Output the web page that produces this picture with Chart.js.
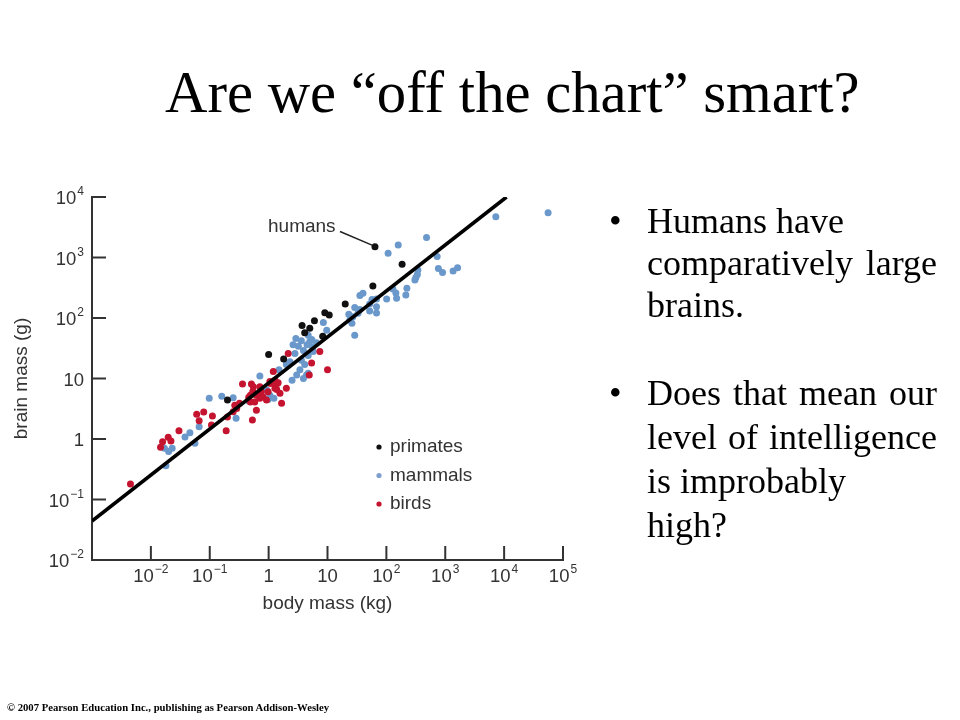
<!DOCTYPE html>
<html><head><meta charset="utf-8">
<script src="https://cdn.jsdelivr.net/npm/chart.js@4.4.1/dist/chart.umd.min.js"></script>
<style>
html,body{margin:0;padding:0;background:#fff;}
#wrap{position:relative;width:960px;height:720px;overflow:hidden;background:#fff;}
#c{position:absolute;left:0;top:0;}
.t{position:absolute;font-family:"Liberation Serif","Times New Roman",serif;color:#000;white-space:nowrap;line-height:1;}
.title{font-size:58.7px;left:165px;top:64px;}
.b{font-size:36px;left:647px;}
.j{width:290px;text-align:justify;text-align-last:justify;}
.dot{left:609px;font-size:36px;}
.foot{font-size:10.7px;font-weight:bold;left:7px;top:702px;}
</style></head>
<body><div id="wrap">
<canvas id="c" width="960" height="720"></canvas>
<div class="t title">Are we “off the chart” smart?</div>
<div class="t dot" style="top:203px">•</div>
<div class="t b" style="top:203px">Humans have</div>
<div class="t b j" style="top:245px">comparatively large</div>
<div class="t b" style="top:287px">brains.</div>
<div class="t dot" style="top:375px">•</div>
<div class="t b j" style="top:375px">Does that mean our</div>
<div class="t b j" style="top:419px">level of intelligence</div>
<div class="t b" style="top:463px">is improbably</div>
<div class="t b" style="top:507px">high?</div>
<div class="t foot">© 2007 Pearson Education Inc., publishing as Pearson Addison-Wesley</div>
</div>
<script>
// ---- data (body mass in kg, brain mass in g) ----
const primatesBody  = [64, 185, 59, 20, 9.0, 10.7, 6.0, 3.7, 5.0, 4.1, 8.3, 1.8, 1.0, 0.2];
const primatesBrain = [1510, 772, 338, 170, 122, 112, 90, 75, 68, 57, 50, 21, 25, 4.4];

const mammalsBody = [
  55800, 7230, 481, 159, 107, 728, 764, 900, 1360, 1620,
  343, 336, 317, 305, 223, 214, 129, 145, 149, 101,
  35.5, 40, 57, 68, 52, 68, 52, 68, 29, 35.5,
  23, 27, 33, 24, 26, 29, 8.5, 9.7, 2.9, 3.6,
  4.7, 5.4, 6.5, 4.5, 5.6, 3.2, 2.6, 3.9, 2.8, 4.7,
  3.6, 4.1, 3.4, 3.0, 2.5, 3.9, 4.4, 5.7, 5.0, 2.3,
  2.0, 4.7, 1.5, 0.71, 0.92, 1.05, 1.23, 0.98, 0.46, 0.16,
  0.25, 0.098, 0.28, 0.066, 0.038, 0.046, 0.056, 0.017, 0.020, 0.023,
  0.018];
const mammalsBrain = [
  5500, 4720, 2140, 1610, 1170, 1040, 658, 565, 598, 678,
  621, 524, 467, 425, 310, 240, 302, 259, 212, 206,
  235, 256, 202, 206, 170, 154, 131, 121, 149, 138,
  115, 105, 120, 93, 82, 52, 84, 63, 46, 42,
  52, 44, 39, 36, 33, 34, 36, 29, 26, 24,
  20, 17, 14, 11.4, 9.4, 10.0, 11.4, 28, 41, 19,
  17, 12.2, 14, 11, 6.5, 5.3, 4.7, 4.5, 4.25, 5.1,
  4.8, 4.7, 2.2, 1.6, 1.08, 1.27, 0.85, 0.70, 0.62, 0.70,
  0.36];

const birdsBody = [
  0.0045, 0.0146, 0.0158, 0.0197, 0.0219, 0.030, 0.060, 0.066, 0.079, 0.107,
  0.111, 0.19, 0.20, 0.25, 0.287, 0.32, 0.266, 0.36, 0.51, 0.54,
  0.46, 0.49, 0.53, 0.62, 0.71, 0.75, 0.80, 0.92, 0.98, 1.08,
  1.2, 1.28, 1.4, 1.56, 1.66, 2.0, 4.9, 2.15, 7.4, 5.37,
  10, 1.28, 1.45, 1.37, 1.05, 0.55, 0.49, 0.62, 0.71, 0.58];
const birdsBrain = [
  0.18, 0.73, 0.90, 1.07, 0.93, 1.37, 2.56, 2.0, 2.8, 1.70,
  2.40, 1.37, 2.3, 2.83, 3.2, 3.9, 3.6, 8.1, 8.1, 6.1,
  4.9, 4.1, 2.06, 3.0, 7.3, 6.05, 5.0, 4.41, 6.05, 8.3,
  13, 6.9, 8.3, 5.7, 3.9, 6.9, 11.4, 26, 28, 18,
  14, 9.4, 8.5, 6.6, 8.9, 7.3, 5.3, 5.3, 4.7, 4.1];

// regression line endpoints (body kg, brain g)
const fitBody  = [0.001, 11000];
const fitBrain = [0.044, 10000];

// axis ticks and labels [base, exponent]
const xTicks = [0.01, 0.1, 1, 10, 100, 1000, 10000, 100000];
const xTickLabels = [["10","−2"],["10","−1"],["1",""],["10",""],["10","2"],["10","3"],["10","4"],["10","5"]];
const yTicks = [0.01, 0.1, 1, 10, 100, 1000, 10000];
const yTickLabels = [["10","−2"],["10","−1"],["1",""],["10",""],["10","2"],["10","3"],["10","4"]];

const seriesNames = ["primates", "mammals", "birds"];
const xTitle = "body mass (kg)";
const yTitle = "brain mass (g)";
const annotationText = "humans";

const colBlack = "#111111", colBlue = "#6a98cb", colRed = "#c5142f";
const axisColor = "#333333", textColor = "#333333";

const pts = (bx, by) => bx.map((v, i) => ({x: v, y: by[i]}));

const decor = {
  id: 'decor',
  afterDraw(chart) {
    const {ctx, scales: {x, y}} = chart;
    ctx.save();
    ctx.strokeStyle = axisColor; ctx.lineWidth = 2; ctx.lineCap = 'butt';
    yTicks.forEach(v => { const py = y.getPixelForValue(v); ctx.beginPath(); ctx.moveTo(x.left, py); ctx.lineTo(x.left + 14, py); ctx.stroke(); });
    xTicks.forEach(v => { const px = x.getPixelForValue(v); ctx.beginPath(); ctx.moveTo(px, y.bottom); ctx.lineTo(px, y.bottom - 14); ctx.stroke(); });

    const baseF = "18.5px 'Liberation Sans', Arial, sans-serif";
    const expF = "12px 'Liberation Sans', Arial, sans-serif";
    const textF = "19px 'Liberation Sans', Arial, sans-serif";
    ctx.fillStyle = textColor; ctx.textBaseline = 'middle'; ctx.textAlign = 'left';
    function lab(l, ax, cy, align) {
      ctx.font = baseF; const wb = ctx.measureText(l[0]).width;
      ctx.font = expF; const we = l[1] ? ctx.measureText(l[1]).width + 1 : 0;
      const w = wb + we;
      const sx = align === 'right' ? ax - w : ax - w / 2;
      ctx.font = baseF; ctx.fillText(l[0], sx, cy);
      if (l[1]) { ctx.font = expF; ctx.fillText(l[1], sx + wb + 1, cy - 7); }
    }
    yTicks.forEach((v, i) => lab(yTickLabels[i], x.left - 8, y.getPixelForValue(v) + 2, 'right'));
    xTicks.forEach((v, i) => lab(xTickLabels[i], x.getPixelForValue(v), y.bottom + 17, 'center'));

    // axis titles
    ctx.font = textF; ctx.textAlign = 'center';
    ctx.fillText(xTitle, (x.left + x.right) / 2, y.bottom + 44);
    ctx.save(); ctx.translate(22, (y.top + y.bottom) / 2); ctx.rotate(-Math.PI / 2); ctx.fillText(yTitle, 0, 0); ctx.restore();

    // legend
    const cols = [colBlack, "#7f9fcf", colRed];
    ctx.textAlign = 'left';
    seriesNames.forEach((n, i) => {
      const ly = 447 + i * 28.5;
      ctx.fillStyle = cols[i]; ctx.beginPath(); ctx.arc(379, ly, 2.6, 0, Math.PI * 2); ctx.fill();
      ctx.fillStyle = textColor; ctx.fillText(n, 390, ly);
    });

    // humans annotation
    const hx = x.getPixelForValue(primatesBody[0]), hy = y.getPixelForValue(primatesBrain[0]);
    ctx.fillText(annotationText, 268, 227);
    ctx.strokeStyle = '#222'; ctx.lineWidth = 1.5;
    ctx.beginPath(); ctx.moveTo(340, 231.5); ctx.lineTo(hx - 3, hy - 1.5); ctx.stroke();
    ctx.restore();
  }
};

new Chart(document.getElementById('c'), {
  type: 'scatter',
  data: {
    datasets: [
      {type: 'line', data: pts(fitBody, fitBrain), borderColor: '#000', borderWidth: 3.6, pointRadius: 0, fill: false, order: 0},
      {label: seriesNames[0], data: pts(primatesBody, primatesBrain), backgroundColor: colBlack, pointRadius: 3.5, borderWidth: 0, order: 1},
      {label: seriesNames[2], data: pts(birdsBody, birdsBrain), backgroundColor: colRed, pointRadius: 3.5, borderWidth: 0, order: 2},
      {label: seriesNames[1], data: pts(mammalsBody, mammalsBrain), backgroundColor: colBlue, pointRadius: 3.5, borderWidth: 0, order: 3}
    ]
  },
  options: {
    responsive: false, animation: false,
    layout: {padding: {left: 92, top: 197, right: 397, bottom: 160}},
    plugins: {legend: {display: false}, tooltip: {enabled: false}},
    scales: {
      x: {type: 'logarithmic', min: 0.001, max: 100000, ticks: {display: false}, grid: {display: false, drawTicks: false}, border: {display: true, color: axisColor, width: 2}},
      y: {type: 'logarithmic', min: 0.01, max: 10000, ticks: {display: false}, grid: {display: false, drawTicks: false}, border: {display: true, color: axisColor, width: 2}}
    }
  },
  plugins: [decor]
});
</script>
</body></html>
